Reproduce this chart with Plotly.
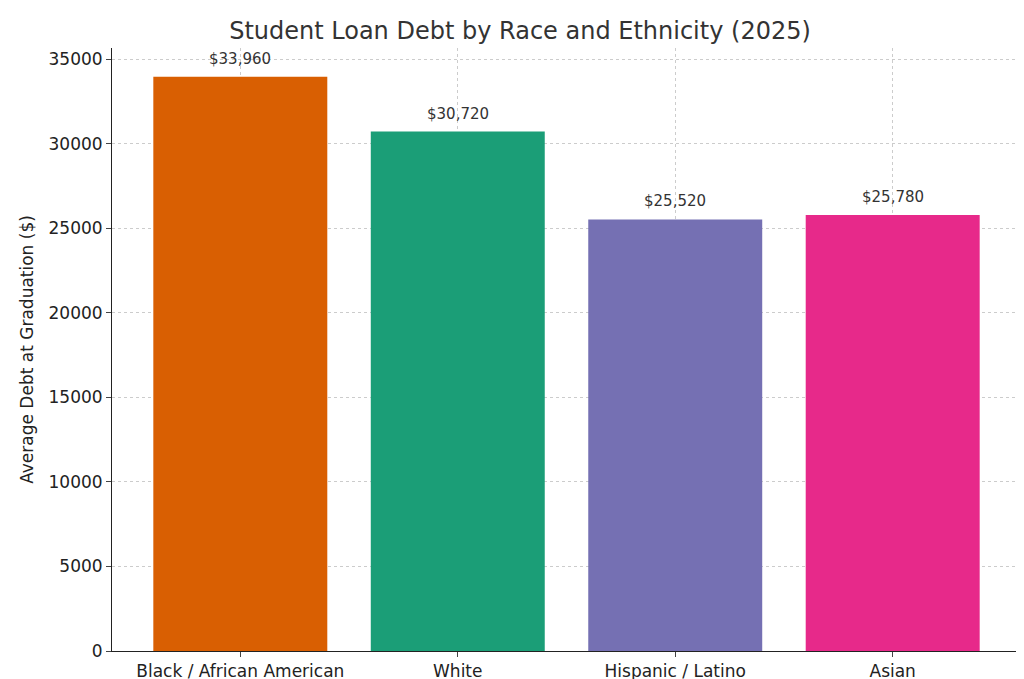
import plotly.graph_objects as go

groups = ['Black / African American', 'White', 'Hispanic / Latino', 'Asian']
debt = [33960, 30720, 25520, 25780]
colors = ['#d95f02', '#1b9e77', '#7570b3', '#e7298a']

fig = go.Figure()
fig.add_trace(go.Bar(x=list(range(len(groups))), y=debt, marker_color=colors,
                     marker_line_width=0, width=0.8))

for i, v in enumerate(debt):
    fig.add_annotation(x=i, y=v, text=f'${v:,}', showarrow=False, yshift=18,
                       font=dict(size=15, color='#333333'))

fig.update_layout(
    width=1024, height=679,
    margin=dict(l=104, r=11, t=40, b=36),
    paper_bgcolor='white', plot_bgcolor='white',
    font=dict(family='DejaVu Sans', color='#222222', size=17),
    title=dict(text='Student Loan Debt by Race and Ethnicity (2025)', x=0.5, xanchor='center',
               y=0.967, yanchor='middle', font=dict(size=24, color='#333333')),
    showlegend=False,
)
fig.update_xaxes(tickmode='array', tickvals=list(range(len(groups))), ticktext=groups,
                 range=[-0.59, 3.59], showgrid=True, gridcolor='#cccccc', griddash='3px,3px',
                 showline=True, linecolor='#222222', ticks='outside', ticklen=5,
                 tickfont=dict(size=17), automargin=False)
fig.update_yaxes(title_text='Average Debt at Graduation ($)', range=[0, 35658],
                 tickvals=list(range(0, 35001, 5000)), tickformat='d', showgrid=True,
                 gridcolor='#cccccc', griddash='3px,3px', showline=True, linecolor='#222222',
                 ticks='outside', ticklen=5, zeroline=False, tickfont=dict(size=17),
                 title_font=dict(size=17), title_standoff=10, automargin=False)

fig.write_html("out.html")
